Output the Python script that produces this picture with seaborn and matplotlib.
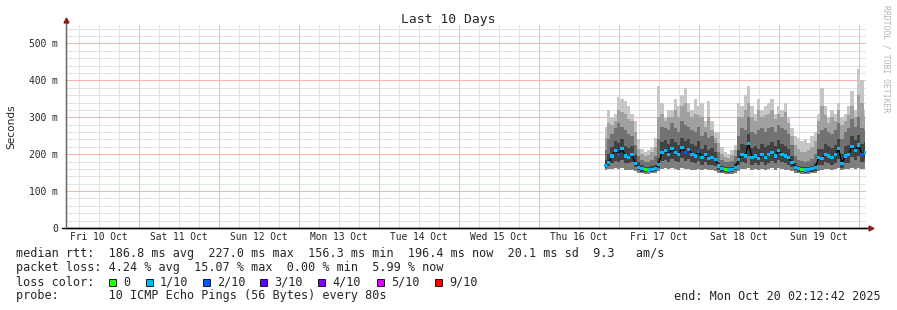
import numpy as np
import pandas as pd
import matplotlib
matplotlib.use("Agg")
import matplotlib.pyplot as plt
import seaborn as sns
from matplotlib.patches import Rectangle
import matplotlib.transforms as mtransforms

# ---------------- data ----------------
# time axis in hours since Fri 10 Oct 00:00
t_start = 2.2117          # Fri 10 Oct 02:12:42
t_end = 242.2117          # Mon 20 Oct 02:12:42
first_sample = 164        # Thu 16 Oct 20:00, hourly samples

day_labels = ["Fri 10 Oct", "Sat 11 Oct", "Sun 12 Oct", "Mon 13 Oct", "Tue 14 Oct",
              "Wed 15 Oct", "Thu 16 Oct", "Fri 17 Oct", "Sat 18 Oct", "Sun 19 Oct"]
y_ticks = [0, 100, 200, 300, 400, 500]
y_tick_labels = ["0", "100 m", "200 m", "300 m", "400 m", "500 m"]

# median rtt (ms)
median = [170, 178, 195, 210, 200, 215, 195, 192, 198, 175,
          165, 160, 158, 157, 158, 162, 172, 205, 210, 200,
          215, 205, 198, 218, 205, 212, 200, 195, 208, 190,
          198, 188, 192, 185, 168, 160, 158, 157, 158, 165,
          185, 200, 195, 230, 190, 195, 188, 200, 192, 198,
          205, 195, 210, 200, 195, 190, 178, 165, 160, 158,
          157, 158, 160, 165, 190, 188, 200, 195, 190, 198,
          215, 175, 195, 198, 222, 210, 225, 200, 205]
# lost pings out of 10
loss = [1, 1, 1, 1, 2, 1, 1, 1, 1, 1,
        1, 1, 0, 1, 1, 1, 1, 1, 1, 1,
        1, 1, 1, 1, 2, 1, 1, 1, 2, 1,
        1, 1, 1, 1, 1, 1, 0, 1, 1, 1,
        1, 1, 1, 1, 1, 1, 1, 1, 1, 1,
        1, 1, 1, 1, 1, 1, 1, 1, 1, 0,
        1, 1, 1, 1, 1, 1, 1, 1, 1, 1,
        1, 1, 1, 1, 1, 1, 1, 2, 1]
# smoke: ping distribution envelopes (ms)
p_min = [158, 160, 160, 162, 160, 162, 158, 158, 158, 155,
         150, 148, 147, 147, 148, 150,
         155, 160, 162, 160, 162, 160, 158, 162, 160, 160, 158, 158, 160, 158, 160, 156, 158, 155,
         150, 148, 147, 146, 147, 150,
         155, 160, 160, 162, 158, 160, 158, 160, 158, 160, 162, 158, 162, 160, 158, 158, 155,
         150, 148, 147, 146, 147, 148, 150,
         155, 158, 160, 160, 158, 160, 162, 158, 160, 160, 162, 160, 162, 160, 160]
p_lo = [163, 168, 175, 182, 178, 185, 175, 175, 178, 165,
        156, 153, 152, 151, 152, 155,
        163, 182, 185, 178, 188, 182, 178, 190, 182, 186, 178, 175, 182, 172, 178, 170, 172, 168,
        158, 153, 151, 150, 151, 156,
        170, 178, 175, 195, 172, 175, 170, 178, 172, 176, 182, 175, 185, 178, 175, 172, 165,
        156, 153, 151, 150, 151, 152, 155,
        172, 170, 178, 175, 172, 176, 188, 163, 175, 176, 192, 185, 195, 178, 182]
p_hi1 = [185, 200, 220, 235, 230, 240, 222, 218, 222, 198,
         178, 170, 166, 165, 167, 172,
         190, 232, 238, 228, 242, 232, 225, 245, 235, 240, 228, 222, 235, 215, 225, 212, 218, 205,
         180, 168, 166, 165, 166, 175,
         210, 228, 225, 255, 218, 222, 215, 228, 220, 225, 232, 222, 238, 228, 222, 215, 195,
         175, 168, 166, 165, 166, 168, 175,
         215, 215, 228, 222, 218, 225, 242, 200, 222, 225, 250, 238, 252, 228, 232]
p_hi2 = [210, 240, 255, 270, 285, 275, 265, 255, 250, 225,
         195, 185, 180, 180, 185, 195,
         240, 275, 270, 265, 285, 270, 260, 290, 280, 275, 265, 260, 275, 250, 260, 245, 250, 230,
         205, 185, 180, 178, 182, 195,
         250, 270, 265, 300, 260, 255, 265, 270, 260, 270, 275, 260, 280, 270, 265, 255, 225,
         195, 185, 182, 180, 182, 188, 200,
         255, 265, 270, 260, 255, 265, 285, 240, 260, 270, 295, 275, 300, 270, 265]
p_hi3 = [245, 285, 280, 290, 320, 315, 310, 295, 290, 260,
         215, 200, 195, 198, 205, 220,
         300, 310, 290, 300, 300, 320, 300, 330, 340, 315, 300, 310, 305, 300, 275, 300, 265, 245,
         230, 200, 192, 190, 198, 210,
         300, 300, 320, 340, 300, 290, 320, 300, 305, 310, 320, 295, 310, 300, 315, 285, 250,
         225, 215, 205, 205, 210, 220, 235,
         290, 330, 305, 285, 300, 290, 320, 280, 290, 305, 330, 300, 360, 340, 300]
p_max = [275, 320, 300, 310, 355, 350, 345, 330, 310, 290,
         240, 215, 205, 210, 220, 245,
         385, 340, 300, 320, 320, 350, 330, 360, 380, 340, 320, 350, 330, 340, 290, 345, 290, 260,
         260, 220, 205, 200, 210, 225,
         340, 330, 360, 385, 330, 310, 350, 320, 330, 340, 350, 310, 330, 320, 340, 300, 270,
         250, 245, 235, 240, 230, 250, 260,
         310, 380, 330, 300, 320, 310, 340, 300, 310, 330, 370, 320, 430, 400, 320]

loss_names = ["0", "1/10", "2/10", "3/10", "4/10", "5/10", "9/10"]
loss_colors = ["#26ff00", "#00b8ff", "#0059ff", "#5e00ff", "#7e00ff", "#dd00ff", "#ff0000"]

stats_rtt = "median rtt:  186.8 ms avg  227.0 ms max  156.3 ms min  196.4 ms now  20.1 ms sd  9.3   am/s"
stats_loss = "packet loss: 4.24 % avg  15.07 % max  0.00 % min  5.99 % now"
probe_text = "probe:       10 ICMP Echo Pings (56 Bytes) every 80s"
end_text = "end: Mon Oct 20 02:12:42 2025"

# ---------------- figure ----------------
sns.set_style("white")
plt.rcParams["font.family"] = ["DejaVu Sans Mono", "DejaVu Sans"]

W, H = 897, 310
fig = plt.figure(figsize=(W / 100, H / 100), dpi=100)
fig.patch.set_facecolor("white")
ax = fig.add_axes([66 / W, 82 / H, 800 / W, 203 / H])
ax.set_facecolor("white")

hours = first_sample + np.arange(len(median))
df = pd.DataFrame({"t": hours, "median": median, "loss": [loss_names[l] for l in loss]})

bands = [(p_hi3, p_max, "#c6c6c6"), (p_hi2, p_hi3, "#a0a0a0"), (p_hi1, p_hi2, "#727272"),
         (p_lo, p_hi1, "#424242"), (p_min, p_lo, "#7e7e7e")]
for lo_, hi_, c in bands:
    ax.fill_between(hours, lo_, hi_, step="mid", color=c, lw=0, zorder=2)

sns.lineplot(data=df, x="t", y="median", color="black", lw=0.9, ax=ax, zorder=3)
sns.scatterplot(data=df, x="t", y="median", hue="loss",
                palette=dict(zip(loss_names, loss_colors)), marker="s", s=5,
                linewidth=0, legend=False, ax=ax, zorder=4)

ax.set_xlim(t_start, t_end)
ax.set_ylim(0, 550)

# grid: gray every 6 h / 20 ms, red every day / 100 ms (dotted in original -> light solid)
ax.grid(False)
day_lines = [24 * k for k in range(1, 11)]
quarter_lines = [6 * k for k in range(1, 41) if k % 4 != 0]
minor_y = [20 * k for k in range(1, 28) if k % 5 != 0]
grid_kw = dict(lw=0.72, ls="-", zorder=0.5)
for xv in quarter_lines:
    ax.axvline(xv, color="#e2e2e2", **grid_kw)
for yv in minor_y:
    ax.axhline(yv, color="#e2e2e2", **grid_kw)
for xv in day_lines:
    ax.axvline(xv, color="#ffb0b0", **grid_kw)
for yv in y_ticks[1:]:
    ax.axhline(yv, color="#ffb0b0", **grid_kw)

ax.set_xticks(day_lines)
ax.set_xticks(quarter_lines, minor=True)
ax.set_xticklabels([])
ax.set_yticks(y_ticks)
ax.set_yticklabels(y_tick_labels, fontsize=6.9)
ax.tick_params(axis="x", which="major", length=2, color="#e06060", direction="out")
ax.tick_params(axis="x", which="minor", length=2, color="#aaaaaa", direction="out")
ax.tick_params(axis="y", which="major", length=2, color="#777777", pad=4)
ax.tick_params(axis="y", which="minor", length=0)
ax.set_xlabel("")
ax.set_ylabel("")

for s in ["top", "right"]:
    ax.spines[s].set_visible(False)
ax.spines["left"].set_color("#666666")
ax.spines["left"].set_linewidth(0.9)
ax.spines["bottom"].set_color("black")
ax.spines["bottom"].set_linewidth(1.0)
ax.spines["left"].set_bounds(0, 555)

# axis extensions & arrow heads
ax.plot([-0.005, 1.004], [0, 0], transform=ax.transAxes, color="black", lw=1.0, clip_on=False, zorder=5)
ax.plot([0, 0], [0, 1.02], transform=ax.transAxes, color="#666666", lw=0.9, clip_on=False, zorder=5)
ax.plot([1.006], [0], transform=ax.transAxes, marker=">", color="#8b1a1a", ms=3.5, clip_on=False, zorder=6)
ax.plot([0], [1.025], transform=ax.transAxes, marker="^", color="#8b1a1a", ms=3.5, clip_on=False, zorder=6)

# day labels at noon
trans = mtransforms.blended_transform_factory(ax.transData, ax.transAxes)
for i, lab in enumerate(day_labels):
    ax.text(24 * i + 12, -9.5 / 203, lab, transform=trans, ha="center", va="center",
            fontsize=6.9, family="DejaVu Sans Mono")

def fx(px):
    return px / W

def fy(py):
    return 1 - py / H

fig.text(fx(448), fy(19), "Last 10 Days", ha="center", va="center", fontsize=9.4,
         family="DejaVu Sans Mono")
fig.text(fx(11), fy(127), "Seconds", rotation=90, ha="center", va="center", fontsize=7.6,
         family="DejaVu Sans")
fig.text(fx(886), fy(5), "RRDTOOL / TOBI OETIKER", rotation=-90, ha="center", va="top",
         fontsize=5.8, color="#b4b4b4", family="DejaVu Sans Mono")

fs = 8.5
fig.text(fx(16), fy(254), stats_rtt, ha="left", va="center", fontsize=fs)
fig.text(fx(16), fy(268), stats_loss, ha="left", va="center", fontsize=fs)
fig.text(fx(16), fy(282), "loss color:", ha="left", va="center", fontsize=fs)
fig.text(fx(16), fy(296), probe_text, ha="left", va="center", fontsize=fs)
fig.text(fx(881), fy(296), end_text, ha="right", va="center", fontsize=fs)

box_x = [109, 146, 203, 260, 318, 377, 435]
for bx, name, col in zip(box_x, loss_names, loss_colors):
    fig.patches.append(Rectangle((fx(bx), fy(285.5)), 7 / W, 7 / H, transform=fig.transFigure,
                                 facecolor=col, edgecolor="black", lw=0.6))
    fig.text(fx(bx + 14), fy(282), name, ha="left", va="center", fontsize=fs)

fig.savefig("out.png", dpi=100, facecolor="white")
